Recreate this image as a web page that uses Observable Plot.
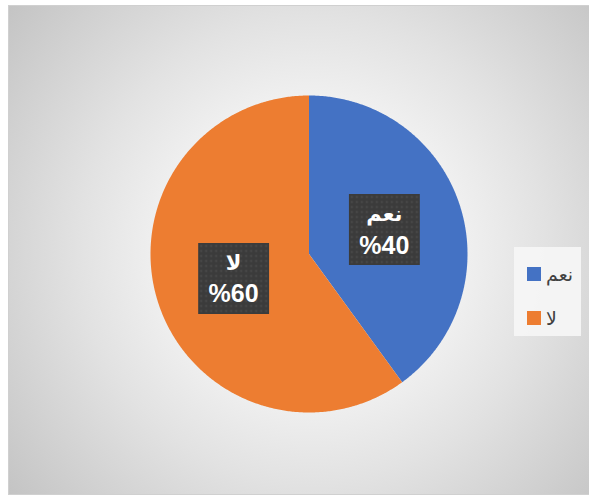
<!DOCTYPE html>
<html>
<head>
<meta charset="utf-8">
<script src="https://cdn.jsdelivr.net/npm/d3@7"></script>
<script src="https://cdn.jsdelivr.net/npm/@observablehq/plot@0.6"></script>
<style>
  html, body { margin: 0; padding: 0; background: #ffffff; width: 589px; height: 496px; overflow: hidden; }
  #frame {
    position: absolute; left: 8px; top: 5px; width: 583px; height: 488px;
    border: 1px solid #d0d0d0;
    background: radial-gradient(circle farthest-corner at 52% 50%, #ffffff 0%, #f6f6f6 30%, #e2e2e2 60%, #c4c4c4 100%);
    font-family: "Liberation Sans", "DejaVu Sans", Arial, sans-serif;
  }
  #legend {
    position: absolute; left: 505px; top: 241px; width: 67px; height: 89px;
    background: rgba(246,246,246,0.9);
  }
  .item { position: absolute; left: 13px; height: 16px; display: flex; align-items: center; gap: 5px; font-size: 19px; color: #404040; }
  .sw { width: 14px; height: 14px; flex: none; }
  svg.pie text { font-family: "Liberation Sans", "DejaVu Sans", Arial, sans-serif; }
</style>
</head>
<body>
<div id="frame"></div>
<script>
const categories = ["نعم", "لا"];
const values = [40, 60];
const percentLabels = ["%40", "%60"];
const colors = ["#4472C4", "#ED7D31"];

const W = 581, H = 488;
const cx = 299.5, cy = 247.5, R = 158.5;

const arcs = d3.pie().sort(null)(values);
const points = [];
arcs.forEach((a, i) => {
  points.push({key: categories[i], x: 0, y: 0});
  const n = Math.max(2, Math.ceil((a.endAngle - a.startAngle) / (Math.PI / 360)));
  for (let k = 0; k <= n; k++) {
    const t = a.startAngle + (a.endAngle - a.startAngle) * k / n;
    points.push({key: categories[i], x: Math.sin(t), y: Math.cos(t)});
  }
  points.push({key: categories[i], x: 0, y: 0});
});
const labels = arcs.map((a, i) => {
  const m = (a.startAngle + a.endAngle) / 2;
  return {key: categories[i], pct: percentLabels[i], x: 0.5 * Math.sin(m), y: 0.5 * Math.cos(m)};
});

const chart = Plot.plot({
  width: W, height: H,
  margin: 0,
  className: "pie",
  style: {background: "transparent", overflow: "visible"},
  x: {domain: [-cx / R, (W - cx) / R], axis: null},
  y: {domain: [-(H - cy) / R, cy / R], axis: null},
  color: {domain: categories, range: colors},
  marks: [
    Plot.line(points, {x: "x", y: "y", z: "key", fill: "key", stroke: "none", curve: "linear"}),
    Plot.dot(labels, {x: "x", y: "y", symbol: "square", r: 40, fill: "url(#dotpat)", stroke: "none",
      style: {filter: "drop-shadow(2px 2px 2px rgba(0,0,0,0.45))"}}),
    Plot.text(labels, {x: "x", y: "y", text: "key", dy: -15, fill: "white", fontWeight: "bold", fontSize: 21}),
    Plot.text(labels, {x: "x", y: "y", text: "pct", dy: 16, fill: "white", fontWeight: "bold", fontSize: 25})
  ]
});

const ns = "http://www.w3.org/2000/svg";
const defs = document.createElementNS(ns, "defs");
defs.innerHTML = '<pattern id="dotpat" patternUnits="userSpaceOnUse" width="5" height="5">' +
  '<rect width="5" height="5" fill="#3b3b3b"/><circle cx="2.5" cy="2.5" r="1" fill="#4f4f4f"/></pattern>';
chart.insertBefore(defs, chart.firstChild);

const frame = document.getElementById("frame");
frame.appendChild(chart);

const legend = document.createElement("div");
legend.id = "legend";
categories.forEach((c, i) => {
  const it = document.createElement("div");
  it.className = "item";
  it.style.top = (i === 0 ? 19 : 63) + "px";
  const sw = document.createElement("div");
  sw.className = "sw";
  sw.style.background = colors[i];
  const tx = document.createElement("span");
  tx.textContent = c;
  it.appendChild(sw);
  it.appendChild(tx);
  legend.appendChild(it);
});
frame.appendChild(legend);
</script>
</body>
</html>
